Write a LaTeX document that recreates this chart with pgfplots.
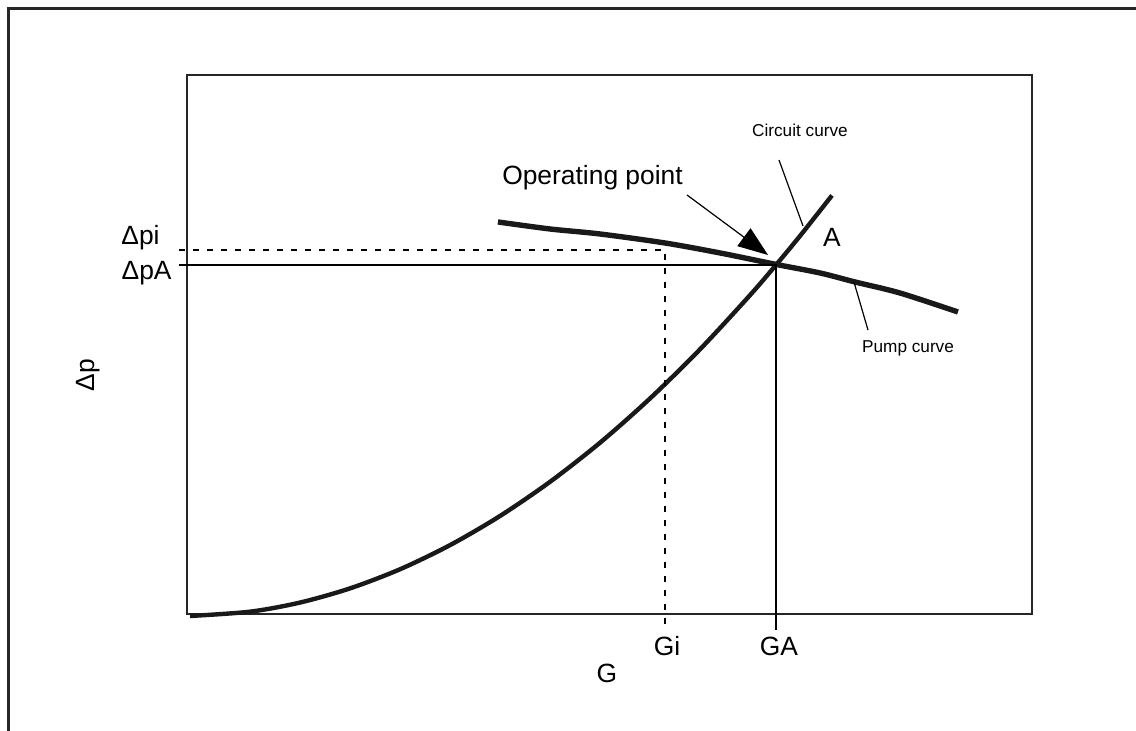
\documentclass[border=0pt]{standalone}
\usepackage{pgfplots}
\pgfplotsset{compat=1.18}
\usepackage{fontspec}
\setmainfont{Liberation Sans}
\usetikzlibrary{arrows.meta}

% pump and circuit curves (G and dp in % of the box)
\begin{document}
\begin{tikzpicture}[x=1pt,y=1pt]
  \path[use as bounding box] (0,0) rectangle (568,365.5);
  % frame, only top and left edges show
  \draw[line width=1.5pt,black!85] (4,0) -- (4,361) -- (570,361);
  \begin{axis}[
      at={(93.5pt,58.5pt)}, anchor=south west,
      scale only axis,
      width=422.5pt, height=269.5pt,
      xmin=0, xmax=100, ymin=0, ymax=100,
      axis line style={line width=1pt,black!85},
      xtick=\empty, ytick=\empty,
      clip=false,
      font=\fontsize{13.2}{15}\selectfont
    ]
    % circuit curve
    \addplot[line width=2.2pt,black!90,smooth,tension=0.5] coordinates {
      (0.36,-0.37) (7.46,0.43) (13.37,2.12) (19.29,4.75) (25.21,8.30)
      (31.12,12.77) (37.04,18.18) (42.96,24.52) (48.88,31.78) (54.79,39.98)
      (60.71,49.10) (66.63,59.15) (69.70,64.75) (72.54,70.13) (76.33,77.65)};
    % pump curve
    \addplot[line width=2.7pt,black!90,smooth,tension=0.5] coordinates {
      (36.80,72.73) (42.96,71.43) (48.88,70.50) (56.57,68.83) (63.08,66.98)
      (69.70,64.86) (74.91,63.27) (79.05,61.60) (84.38,59.55) (91.24,56.03)};
    % guide lines
    \draw[dash pattern=on 3pt off 4pt,line width=0.6pt] (axis cs:-0.95,67.53) -- (axis cs:56.57,67.53) -- (axis cs:56.57,-2.04);
    \draw[line width=0.7pt] (axis cs:-0.95,64.75) -- (axis cs:69.70,64.75) -- (axis cs:69.70,-2.97);
    % leaders and arrow
    \draw[line width=0.6pt] (axis cs:70.06,84.23) -- (axis cs:72.90,71.99);
    \draw[line width=0.6pt] (axis cs:78.93,61.60) -- (axis cs:80.59,52.69);
    \draw[line width=0.6pt,-{Triangle[length=15pt,width=11pt]}] (axis cs:59.17,77.74) -- (axis cs:68.76,66.60);
    % labels
    \node[anchor=base] at (axis cs:47.99,79.59) {Operating point};
    \node[anchor=base] at (axis cs:76.33,68.27) {A};
    \node[anchor=base,font=\fontsize{8.6}{10}\selectfont] at (axis cs:72.54,88.68) {Circuit curve};
    \node[anchor=base,font=\fontsize{8.6}{10}\selectfont] at (axis cs:85.33,48.60) {Pump curve};
    \node[anchor=base east,inner sep=0pt] at (axis cs:-3.20,68.46) {Δpi};
    \node[anchor=base east,inner sep=0pt] at (axis cs:-1.78,61.97) {ΔpA};
    \node[rotate=90] at (axis cs:-11.72,44.34) {Δp};
    \node[anchor=base] at (axis cs:56.80,-7.79) {Gi};
    \node[anchor=base] at (axis cs:70.06,-7.79) {GA};
    \node[anchor=base] at (axis cs:49.70,-12.80) {G};
  \end{axis}
\end{tikzpicture}
\end{document}
